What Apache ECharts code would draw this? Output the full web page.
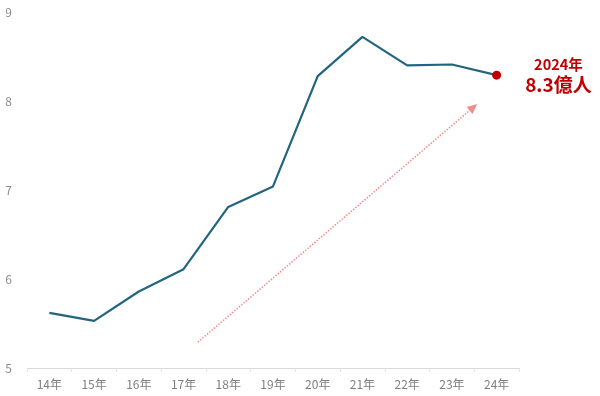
<!DOCTYPE html>
<html><head><meta charset="utf-8">
<script src="https://cdn.jsdelivr.net/npm/echarts@6/dist/echarts.min.js"></script>
<style>html,body{margin:0;padding:0;background:#fff}#c{width:600px;height:396px}</style>
</head><body><div id="c"></div>
<script>
var categories = ['14年','15年','16年','17年','18年','19年','20年','21年','22年','23年','24年'];
var values = [5.62, 5.53, 5.86, 6.11, 6.81, 7.04, 8.28, 8.72, 8.40, 8.41, 8.29];
var yTicks = [5, 6, 7, 8, 9];
var noteYear = '2024年';
var noteValue = '8.3億人';
var trendFrom = [3.32, 5.29];
var trendTo = [9.48, 7.93];

var font = '"Noto Sans CJK JP", "Noto Sans", sans-serif';
var last = values.length - 1;
var lineData = values.map(function (v, i) {
  if (i !== last) return v;
  return {
    value: v,
    symbol: 'circle', symbolSize: 9,
    itemStyle: {color: '#c00000'},
    label: {
      show: true, position: 'right', distance: 24,
      formatter: '{a|' + noteYear + '}\n{b|' + noteValue + '}',
      rich: {
        a: {fontSize: 14.5, fontWeight: 'bold', color: '#c00000', fontFamily: font, lineHeight: 20, align: 'center'},
        b: {fontSize: 19, fontWeight: 'bold', color: '#c00000', fontFamily: font, lineHeight: 22, align: 'center'}
      }
    }
  };
});

var chart = echarts.init(document.getElementById('c'));
chart.setOption({
  animation: false,
  grid: {left: 27, right: 81, top: 12, bottom: 28},
  xAxis: [{
    type: 'category', data: categories, boundaryGap: true,
    axisLine: {lineStyle: {color: '#d9d9d9'}},
    axisTick: {show: true, length: 4, lineStyle: {color: '#e3e3e3'}},
    axisLabel: {color: '#7f7f7f', fontSize: 12, fontFamily: font, margin: 10}
  }, {
    type: 'value', min: -0.5, max: 10.5, show: false
  }],
  yAxis: {
    type: 'value', min: yTicks[0], max: yTicks[yTicks.length - 1], interval: 1,
    axisLine: {show: false}, axisTick: {show: false}, splitLine: {show: false},
    axisLabel: {color: '#8c8c8c', fontSize: 12, fontFamily: font, margin: 15}
  },
  series: [{
    type: 'line', data: lineData, xAxisIndex: 0,
    symbol: 'none', showSymbol: true,
    lineStyle: {color: '#22657e', width: 2.2},
    itemStyle: {color: '#22657e'}
  }, {
    type: 'line', xAxisIndex: 1, data: [],
    markLine: {
      silent: true, symbol: ['none', 'triangle'], symbolSize: [9, 10],
      lineStyle: {color: '#f28b8b', type: 'dotted', width: 1.5},
      label: {show: false},
      data: [[{coord: trendFrom}, {coord: trendTo}]]
    }
  }]
});
</script></body></html>
